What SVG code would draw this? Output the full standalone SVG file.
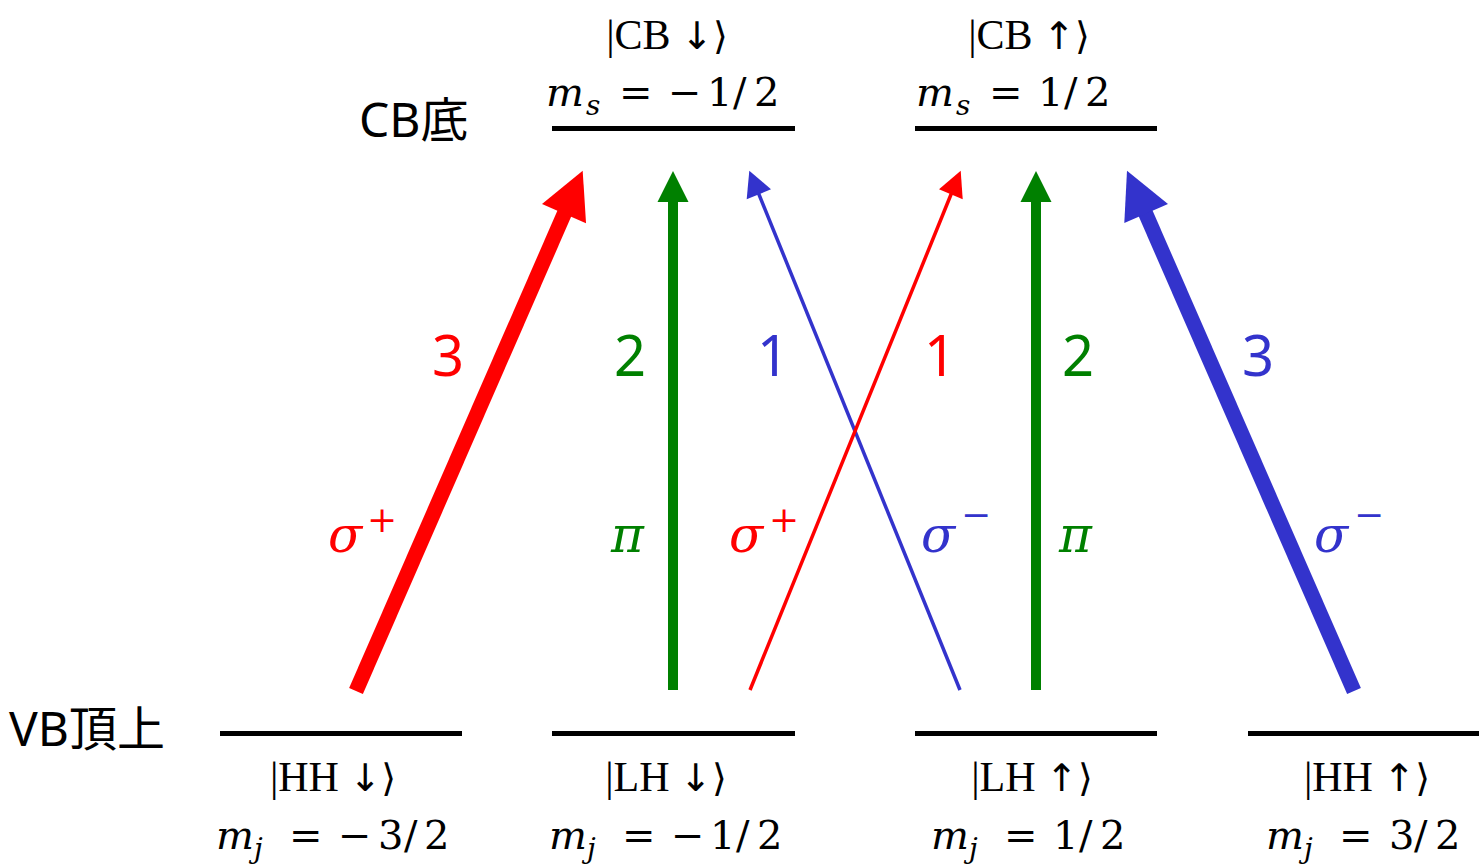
<svg xmlns="http://www.w3.org/2000/svg" width="1479" height="865" viewBox="0 0 1479 865">
<style>
.bar{stroke:#000;stroke-width:5;fill:none}
.st{font-family:"Liberation Serif","DejaVu Serif","DejaVu Sans",serif;font-size:42px;fill:#000;text-anchor:middle}
.ar{font-family:"DejaVu Sans",sans-serif;font-size:38px}
.m{font-family:"DejaVu Serif",serif;font-size:40px;fill:#000}
.i{font-style:italic}
.sub{font-size:28px}
.lab{font-family:"Noto Sans","Noto Sans CJK JP",sans-serif;font-size:48px;fill:#000}
.num{font-family:"Noto Sans","DejaVu Sans",sans-serif;font-size:56px;text-anchor:middle}
.gk{font-family:"DejaVu Serif",serif;font-size:50px;font-style:italic}
.sup{font-family:"DejaVu Serif",serif;font-size:36px}
.red{fill:#FF0000}.grn{fill:#008000}.blu{fill:#3333CC}
.sred{stroke:#FF0000}.sgrn{stroke:#008000}.sblu{stroke:#3333CC}
.thick{stroke-width:15}.mid{stroke-width:10}.thin{stroke-width:3.5}
</style>
<rect width="1479" height="865" fill="#fff"/>
<text class="lab" x="359" y="137">CB底</text>
<text class="lab" x="9" y="746">VB頂上</text>
<g id="cb-down">
<line class="bar" x1="552" y1="128.5" x2="795" y2="128.5"/>
<text class="st" x="667" y="49">|CB <tspan class="ar">↓⟩</tspan></text>
<text class="m" y="106"><tspan class="i" x="546">m</tspan><tspan class="i sub" x="586" y="115">s</tspan><tspan x="619 668 707 733 754" y="106">=−1/2</tspan></text>
</g>
<g id="cb-up">
<line class="bar" x1="915" y1="128.5" x2="1157" y2="128.5"/>
<text class="st" x="1029" y="49">|CB <tspan class="ar">↑⟩</tspan></text>
<text class="m" y="106"><tspan class="i" x="916">m</tspan><tspan class="i sub" x="956" y="115">s</tspan><tspan x="989 1038 1064 1085" y="106">=1/2</tspan></text>
</g>
<g id="hh-down">
<line class="bar" x1="220" y1="733.5" x2="462" y2="733.5"/>
<text class="st" x="333" y="791">|HH <tspan class="ar">↓⟩</tspan></text>
<text class="m" y="849"><tspan class="i" x="216">m</tspan><tspan class="i sub" x="254" y="858">j</tspan><tspan x="289 338 378 404 424" y="849">=−3/2</tspan></text>
</g>
<g id="lh-down">
<line class="bar" x1="552" y1="733.5" x2="795" y2="733.5"/>
<text class="st" x="666" y="791">|LH <tspan class="ar">↓⟩</tspan></text>
<text class="m" y="849"><tspan class="i" x="549">m</tspan><tspan class="i sub" x="587" y="858">j</tspan><tspan x="622 671 710 736 757" y="849">=−1/2</tspan></text>
</g>
<g id="lh-up">
<line class="bar" x1="915" y1="733.5" x2="1157" y2="733.5"/>
<text class="st" x="1032" y="791">|LH <tspan class="ar">↑⟩</tspan></text>
<text class="m" y="849"><tspan class="i" x="931">m</tspan><tspan class="i sub" x="969" y="858">j</tspan><tspan x="1004 1053 1079 1100" y="849">=1/2</tspan></text>
</g>
<g id="hh-up">
<line class="bar" x1="1248" y1="733.5" x2="1479" y2="733.5"/>
<text class="st" x="1367" y="791">|HH <tspan class="ar">↑⟩</tspan></text>
<text class="m" y="849"><tspan class="i" x="1266">m</tspan><tspan class="i sub" x="1304" y="858">j</tspan><tspan x="1339 1389 1414 1435" y="849">=3/2</tspan></text>
</g>
<g id="connectors">
<g id="a-hhd">
<line class="sred thick" x1="356" y1="691" x2="565" y2="212"/>
<polygon class="red" points="582.7,170.7 542,204 586,223.2"/>
<text class="num red" x="448" y="376">3</text>
<text class="gk red" x="328" y="552">σ</text><text class="sup red" x="367" y="532">+</text>
</g>
<g id="a-lhd-pi">
<line class="sgrn mid" x1="673" y1="690" x2="673" y2="200"/>
<polygon class="grn" points="673,171 657.5,202 688.5,202"/>
<text class="num grn" x="630" y="376">2</text>
<text class="gk grn" x="611" y="552">π</text>
</g>
<g id="a-lhu-sm">
<line class="sblu thin" x1="960" y1="690" x2="758" y2="192"/>
<polygon class="blu" points="749.3,170.7 746.7,199.3 771,189.3"/>
<text class="num blu" x="773" y="376">1</text>
<text class="gk blu" x="921" y="552">σ</text><text class="sup blu" x="961" y="527">−</text>
</g>
<g id="a-lhd-sp">
<line class="sred thin" x1="750" y1="690" x2="952" y2="192"/>
<polygon class="red" points="960.7,170.7 939,189.3 962.7,199.3"/>
<text class="num red" x="940" y="376">1</text>
<text class="gk red" x="729" y="552">σ</text><text class="sup red" x="769" y="532">+</text>
</g>
<g id="a-lhu-pi">
<line class="sgrn mid" x1="1036" y1="690" x2="1036" y2="200"/>
<polygon class="grn" points="1036,171 1020.5,202 1051.5,202"/>
<text class="num grn" x="1078" y="376">2</text>
<text class="gk grn" x="1059" y="552">π</text>
</g>
<g id="a-hhu">
<line class="sblu thick" x1="1354" y1="691" x2="1145" y2="212"/>
<polygon class="blu" points="1127,170.7 1168,204 1124.3,223"/>
<text class="num blu" x="1258" y="376">3</text>
<text class="gk blu" x="1314" y="552">σ</text><text class="sup blu" x="1354" y="527">−</text>
</g>
</g>
</svg>
